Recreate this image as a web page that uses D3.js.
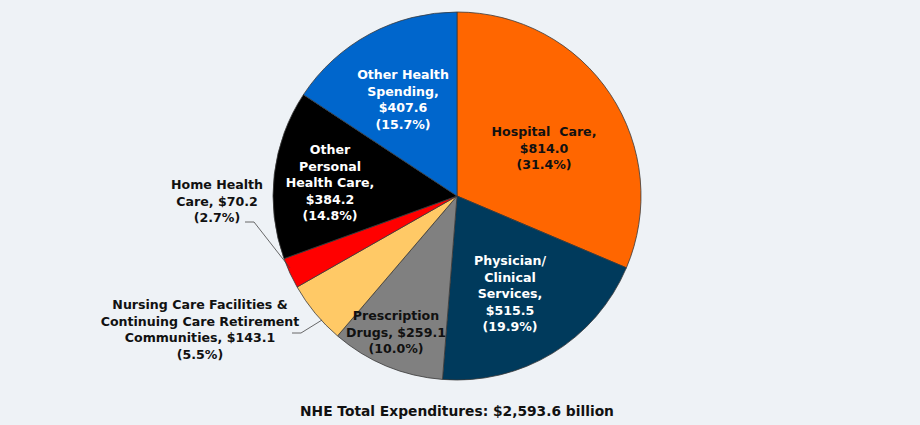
<!DOCTYPE html>
<html>
<head>
<meta charset="utf-8">
<script src="https://cdn.jsdelivr.net/npm/d3@7"></script>
<style>
  body { margin: 0; background: #eef2f6; }
  svg { display: block; font-family: "DejaVu Sans", Verdana, sans-serif; font-weight: bold; }
  text { white-space: pre; }
</style>
</head>
<body>
<div id="chart"></div>
<script>
// werte in Mrd. $
const categories = ["Hospital Care", "Physician/Clinical Services", "Prescription Drugs",
  "Nursing Care Facilities & Continuing Care Retirement Communities", "Home Health Care",
  "Other Personal Health Care", "Other Health Spending"];
const values = [814.0, 515.5, 259.1, 143.1, 70.2, 384.2, 407.6];
const shares = ["31.4%", "19.9%", "10.0%", "5.5%", "2.7%", "14.8%", "15.7%"];
const labelLines = [
  ["Hospital  Care,", "$814.0", "(31.4%)"],
  ["Physician/", "Clinical", "Services,", "$515.5", "(19.9%)"],
  ["Prescription", "Drugs, $259.1", "(10.0%)"],
  ["Nursing Care Facilities &", "Continuing Care Retirement", "Communities, $143.1", "(5.5%)"],
  ["Home Health", "Care, $70.2", "(2.7%)"],
  ["Other", "Personal", "Health Care,", "$384.2", "(14.8%)"],
  ["Other Health", "Spending,", "$407.6", "(15.7%)"]
];
const total = "$2,593.6 billion";

// aussehen
const colors = ["#ff6600", "#003a5c", "#808080", "#ffc966", "#ff0000", "#000000", "#0066cc"];
const textColors = ["#111", "#fff", "#111", "#111", "#111", "#fff", "#fff"];
// mitte der ersten zeile jedes labels
const labelPos = [[544, 132], [510, 261], [396, 316], [200, 305], [217, 185], [330, 150], [403, 75]];
// hinweislinien (nur fuer aussenliegende labels)
const leaders = {
  3: [[292, 333], [301, 333], [322, 320]],
  4: [[245, 222], [254, 222], [290, 268]]
};

const width = 920, height = 425;
const cx = 457, cy = 196, r = 184;
const lineH = 16.4;

const svg = d3.select("#chart").append("svg")
  .attr("width", width)
  .attr("height", height);

svg.append("rect")
  .attr("width", width)
  .attr("height", height)
  .attr("fill", "#eef2f6");

const pie = d3.pie().sort(null).value(d => d);
const arc = d3.arc().innerRadius(0).outerRadius(r);

const g = svg.append("g").attr("transform", `translate(${cx},${cy})`);

g.selectAll("path")
  .data(pie(values))
  .enter().append("path")
  .attr("d", arc)
  .attr("fill", (d, i) => colors[i])
  .attr("stroke", "#3a3a3a")
  .attr("stroke-width", 0.8);

// hinweislinien
Object.keys(leaders).forEach(function(k) {
  svg.append("path")
    .attr("d", d3.line()(leaders[k]))
    .attr("fill", "none")
    .attr("stroke", "#444")
    .attr("stroke-width", 0.8);
});

// beschriftungen
labelLines.forEach(function(lines, i) {
  const t = svg.append("text")
    .attr("text-anchor", "middle")
    .attr("font-size", 12.6)
    .attr("fill", textColors[i]);
  lines.forEach(function(line, j) {
    t.append("tspan")
      .attr("x", labelPos[i][0])
      .attr("y", labelPos[i][1] + j * lineH)
      .attr("dy", "0.35em")
      .text(line);
  });
});

svg.append("text")
  .attr("x", cx)
  .attr("y", 411)
  .attr("dy", "0.35em")
  .attr("text-anchor", "middle")
  .attr("font-size", 13.8)
  .attr("fill", "#111")
  .text("NHE Total Expenditures: " + total);
</script>
</body>
</html>
